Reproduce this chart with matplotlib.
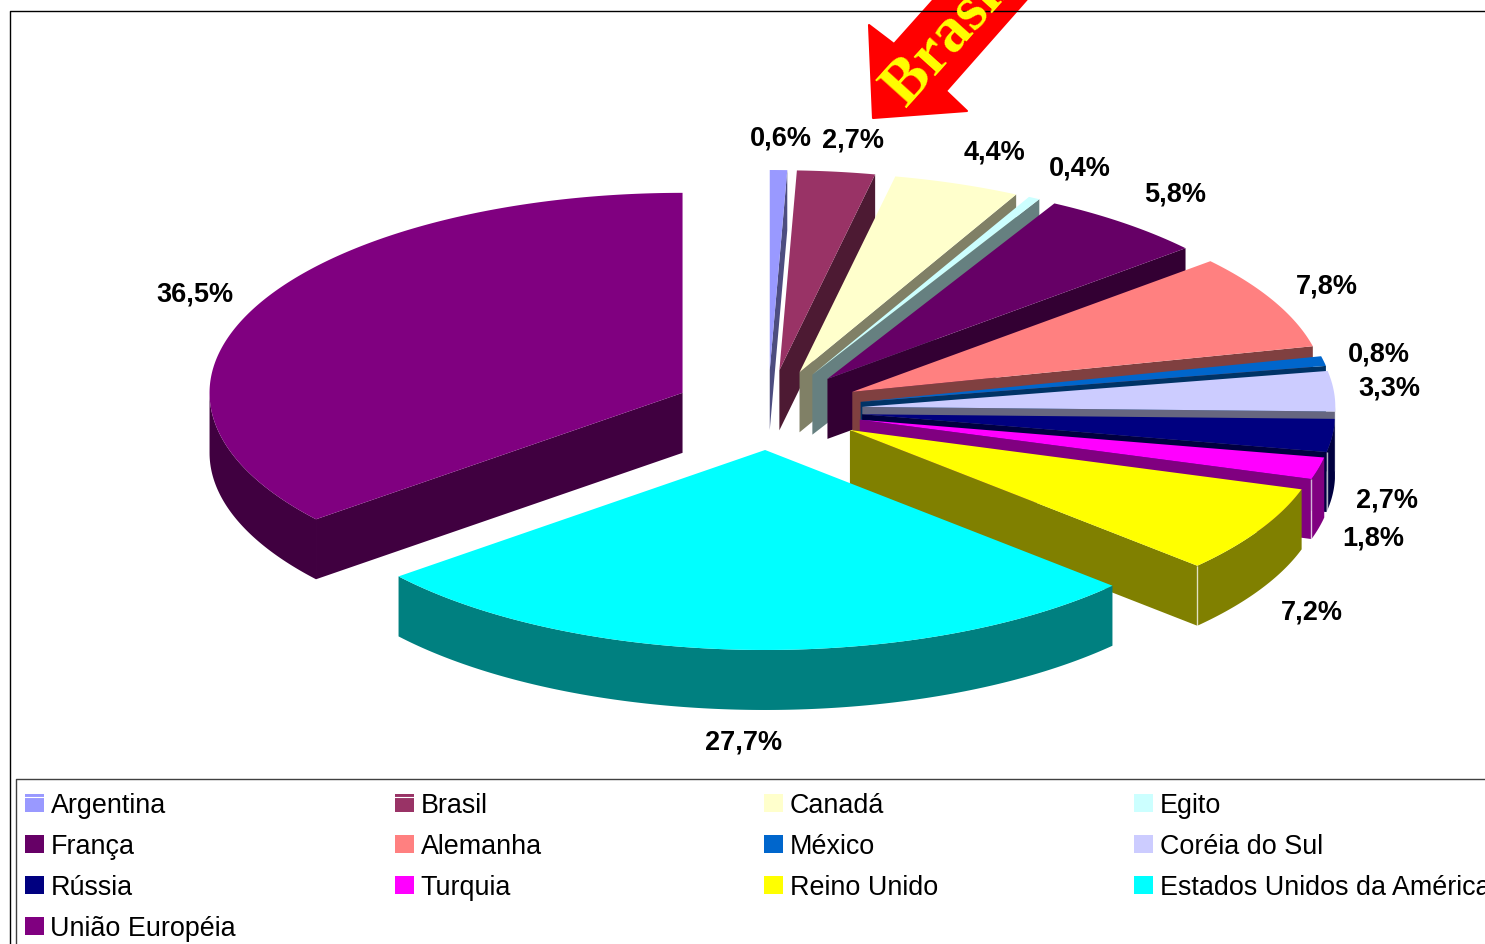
import numpy as np
import matplotlib
matplotlib.use('Agg')
import matplotlib.pyplot as plt
from matplotlib.patches import Polygon, Rectangle

plt.rcParams['font.family'] = ['Liberation Sans', 'DejaVu Sans']

countries = ['Argentina', 'Brasil', 'Canadá', 'Egito', 'França', 'Alemanha', 'México',
             'Coréia do Sul', 'Rússia', 'Turquia', 'Reino Unido',
             'Estados Unidos da América', 'União Européia']
shares = [0.6, 2.7, 4.4, 0.4, 5.8, 7.8, 0.8, 3.3, 2.7, 1.8, 7.2, 27.7, 36.5]
colors = ['#9999FF', '#993366', '#FFFFCC', '#CCFFFF', '#660066', '#FF8080', '#0066CC',
          '#CCCCFF', '#000080', '#FF00FF', '#FFFF00', '#00FFFF', '#800080']

# centres of the percentage labels, in pixels
label_xy = [(781, 139), (853, 140), (995, 153), (1080, 168), (1175, 194), (1327, 286),
            (1379, 354), (1389, 388), (1387, 501), (1373, 539), (1312, 613),
            (744, 743), (195, 294)]

# pie geometry
cx, cy = 768, 410
rx, ry = 473, 200
depth = 60
explode = 0.2


def darker(c):
    return tuple(v * 0.5 for v in matplotlib.colors.to_rgb(c))


def rim(ox, oy, a0, a1):
    # outer edge between two clockwise angles measured from 12 o'clock
    n = max(2, int(abs(a1 - a0) * 2))
    t = np.radians(np.linspace(a0, a1, n))
    return np.column_stack([ox + rx * np.sin(t), oy - ry * np.cos(t)])


def draw_slice(ax, a0, a1, color):
    mid = np.radians((a0 + a1) / 2)
    ox = cx + explode * rx * np.sin(mid)
    oy = cy - explode * ry * np.cos(mid)
    dark = darker(color)
    down = np.array([0, depth])
    apex = np.array([ox, oy])

    # radial side walls, only those turned towards the viewer
    if np.sin(np.radians(a1)) > 0:
        end = rim(ox, oy, a1, a1)[0]
        ax.add_patch(Polygon([apex, end, end + down, apex + down], fc=dark, ec='none'))
    if np.sin(np.radians(a0)) < 0:
        end = rim(ox, oy, a0, a0)[0]
        ax.add_patch(Polygon([apex, end, end + down, apex + down], fc=dark, ec='none'))

    # curved wall on the front half of the pie
    lo, hi = max(a0, 90), min(a1, 270)
    if lo < hi:
        edge = rim(ox, oy, lo, hi)
        ax.add_patch(Polygon(np.vstack([edge, (edge + down)[::-1]]), fc=dark, ec='none'))

    # pale corner where the two walls meet
    if 90 < a1 < 180:
        end = rim(ox, oy, a1, a1)[0]
        ax.plot([end[0], end[0]], [end[1], end[1] + depth], color='white', lw=1, alpha=0.7,
                solid_capstyle='butt')

    # top face
    ax.add_patch(Polygon(np.vstack([apex, rim(ox, oy, a0, a1)]), fc=color, ec='none'))


fig = plt.figure(figsize=(14.85, 9.44), dpi=100)
ax = fig.add_axes([0, 0, 1, 1])
ax.set_xlim(0, 1485)
ax.set_ylim(944, 0)
ax.axis('off')

# chart frame
ax.plot([10, 10, 1485], [944, 10.5, 10.5], color='black', lw=1)

angles = np.cumsum([0] + shares) / sum(shares) * 360
for i in range(len(shares)):
    draw_slice(ax, angles[i], angles[i + 1], colors[i])

for xy, v in zip(label_xy, shares):
    ax.text(xy[0], xy[1], f'{v:.1f}%'.replace('.', ','), fontsize=19.5, fontweight='bold',
            ha='center', va='center', color='black')

# arrow pointing at Brasil
arrow = [(873, 118), (869, 25), (894, 44), (936, -3), (1029, -3), (946, 91), (967, 111)]
ax.add_patch(Polygon(arrow, fc='#FF0000', ec='#FF0000', lw=1.5, joinstyle='round', clip_on=True))
ax.text(906, 108, 'Brasil', family=['Liberation Serif'], fontsize=46, fontweight='bold',
        color='#FFFF00', rotation=48, rotation_mode='anchor', ha='left', va='baseline')

# legend
ax.plot([15.5, 15.5, 1485], [944, 778.5, 778.5], color='#404040', lw=1)
col_x = [25, 395, 764, 1134]
row_y = [803, 844, 885, 926]
for i, name in enumerate(countries):
    x = col_x[i % 4]
    y = row_y[i // 4]
    ax.add_patch(Rectangle((x, y - 9), 19, 18, fc=colors[i], ec='none'))
    if i < 2:
        ax.plot([x, x + 19], [y - 6.5, y - 6.5], color='white', lw=0.8)
    ax.text(x + 25.5, y, name, fontsize=19.4, ha='left', va='center_baseline', color='black')

fig.savefig('out.png', dpi=100)
